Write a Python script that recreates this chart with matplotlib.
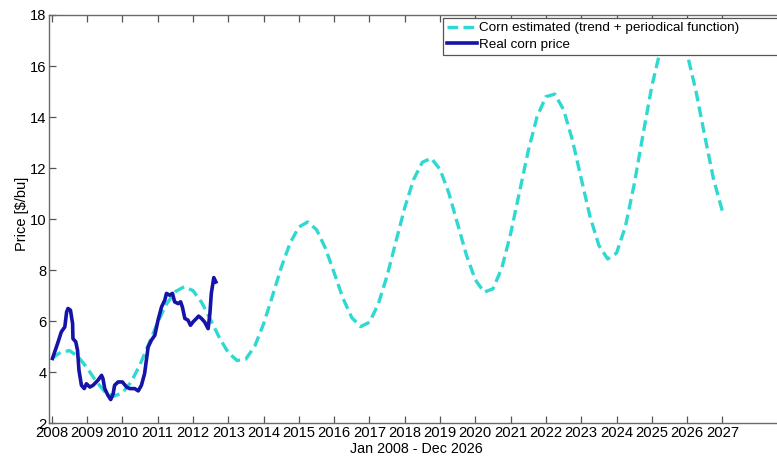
import matplotlib
matplotlib.use("Agg")
import matplotlib.pyplot as plt
import numpy as np

plt.rcParams['font.family'] = ['Liberation Sans', 'DejaVu Sans']

# estimated price, one value per quarter from Jan 2008 to Jan 2027
est_years = np.arange(2008, 2027.01, 0.25)
est_price = [
    4.54, 4.78, 4.85, 4.61,
    4.17, 3.66, 3.24, 3.06,
    3.19, 3.62, 4.30, 5.12,
    5.95, 6.67, 7.16, 7.35,
    7.20, 6.73, 6.06, 5.35,
    4.77, 4.46, 4.52, 5.02,
    5.89, 6.98, 8.10, 9.06,
    9.69, 9.89, 9.59, 8.87,
    7.90, 6.90, 6.14, 5.79,
    5.96, 6.67, 7.78, 9.12,
    10.45, 11.55, 12.23, 12.39,
    11.95, 11.02, 9.80, 8.58,
    7.62, 7.14, 7.27, 8.08,
    9.43, 11.06, 12.68, 14.02,
    14.80, 14.90, 14.29, 13.10,
    11.59, 10.10, 8.97, 8.44,
    8.67, 9.70, 11.36, 13.31,
    15.21, 16.67, 17.43, 17.35,
    16.49, 15.02, 13.26, 11.56,
    10.31,
]

# observed corn price
real_years = [
    2008.02, 2008.18, 2008.27, 2008.37, 2008.42, 2008.46, 2008.53, 2008.59,
    2008.60, 2008.68, 2008.73, 2008.77, 2008.84, 2008.92, 2008.98, 2009.08,
    2009.17, 2009.31, 2009.41, 2009.45, 2009.50, 2009.59, 2009.67, 2009.74,
    2009.78, 2009.88, 2010.00, 2010.12, 2010.21, 2010.35, 2010.45, 2010.54,
    2010.63, 2010.73, 2010.82, 2010.92, 2011.01, 2011.11, 2011.20, 2011.25,
    2011.34, 2011.42, 2011.48, 2011.58, 2011.65, 2011.70, 2011.77, 2011.86,
    2011.93, 2012.00, 2012.10, 2012.16, 2012.24, 2012.33, 2012.43, 2012.48,
    2012.52, 2012.59, 2012.65,
]
real_price = [
    4.54, 5.19, 5.58, 5.78, 6.36, 6.50, 6.43, 5.91,
    5.32, 5.19, 4.86, 4.08, 3.49, 3.36, 3.55, 3.42,
    3.49, 3.69, 3.88, 3.75, 3.36, 3.10, 2.93, 3.16,
    3.49, 3.62, 3.62, 3.42, 3.36, 3.36, 3.27, 3.49,
    3.95, 4.99, 5.25, 5.45, 6.04, 6.56, 6.82, 7.09,
    7.02, 7.09, 6.76, 6.69, 6.76, 6.56, 6.11, 6.04,
    5.84, 5.97, 6.11, 6.20, 6.11, 5.97, 5.71, 6.30,
    7.09, 7.71, 7.54,
]

year_ticks = list(range(2008, 2028))
price_ticks = [2, 4, 6, 8, 10, 12, 14, 16, 18]

W, H = 777, 459
fig = plt.figure(figsize=(W / 100, H / 100), dpi=100)
# axes run past the right edge of the figure
ax = fig.add_axes([49.3 / W, 1 - 423.3 / H, (793 - 49.3) / W, 408.3 / H])

ax.plot(est_years, est_price, color='#2fd9d2', lw=2.4, dashes=(3.2, 1.6),
        dash_joinstyle='round', dash_capstyle='butt',
        label='Corn estimated (trend + periodical function)')
ax.plot(real_years, real_price, color='#1414a8', lw=2.6,
        solid_joinstyle='round',
        label='Real corn price')

ax.set_xlim(2007.93, 2029)
ax.set_ylim(2, 18)
ax.set_xticks(year_ticks)
ax.set_yticks(price_ticks)
ax.tick_params(direction='in', length=5, width=0.9, color='#555555',
               labelsize=10.6, top=True, right=True, pad=2)
for sp in ax.spines.values():
    sp.set_color('#6a6a6a')
    sp.set_linewidth(1.0)

ax.set_xlabel('Jan 2008 - Dec 2026', fontsize=10.3)
ax.xaxis.set_label_coords(0.493, -0.046)
ax.set_ylabel('Price [$/bu]', fontsize=10.5)
ax.yaxis.set_label_coords(-0.027, 0.513)

leg = ax.legend(loc='upper left', mode='expand',
                bbox_to_anchor=(443 / W, 1 - 58 / H, (810 - 443) / W, 40 / H),
                bbox_transform=fig.transFigure, borderaxespad=0,
                fontsize=9.7, handlelength=2.2, handletextpad=0.15,
                borderpad=0.3, labelspacing=0.3, fancybox=False,
                framealpha=1, edgecolor='#555555')
leg.get_frame().set_linewidth(0.9)

fig.savefig('out.png', dpi=100)
